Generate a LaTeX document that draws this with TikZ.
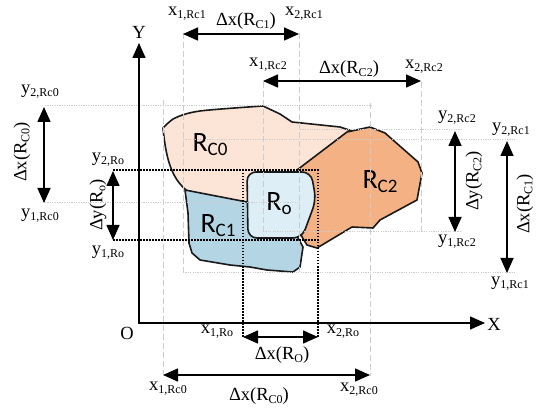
\documentclass[tikz,border=0pt]{standalone}
\usepackage{fontspec}
\setmainfont{Liberation Serif}
\newfontfamily\shapefont{Carlito}
\usetikzlibrary{arrows.meta}
\newcommand{\sbs}[1]{\raisebox{-3pt}{\fontsize{12}{12}\selectfont #1}}
\newcommand{\rsb}[1]{\raisebox{-4pt}{\fontsize{19}{19}\selectfont #1}}
\definecolor{peach}{HTML}{FCE4D6}
\definecolor{blueA}{HTML}{B4D6E4}
\definecolor{blueB}{HTML}{DDEEF6}
\definecolor{orng}{HTML}{F4B183}
\definecolor{edge}{HTML}{1A1A1A}
\begin{document}
\begin{tikzpicture}[x=1pt,y=-1pt,
  lbl/.style={font=\fontsize{18.5}{20}\selectfont, inner sep=0pt},
  reglbl/.style={font=\shapefont\fontsize{28}{30}\selectfont, inner sep=0pt},
  reg/.style={draw=edge, line width=1.6pt, line join=round},
  dimarrow/.style={{Triangle[length=15pt,width=13pt]}-{Triangle[length=15pt,width=13pt]}, line width=1.6pt},
  axis/.style={{Triangle[length=15pt,width=13pt]}-{Triangle[length=15pt,width=13pt]}, line width=1.6pt},
  guide/.style={black!20, line width=1pt, dash pattern=on 6pt off 3pt},
  guidedot/.style={black!20, line width=1pt, dash pattern=on 1.2pt off 1.2pt},
  blackdot/.style={black, line width=1.4pt, dash pattern=on 1.5pt off 1.5pt}]
\useasboundingbox (0,0) rectangle (540,411);

% regions
\path[reg, fill=peach] plot[smooth, tension=0.5] coordinates {(163,128) (175,118) (200,111) (263,106)}
  -- (280,114) -- (292,122) -- (340,127) -- (355,132) -- (330,168) -- (305,205) -- (260,212) -- (200,198) -- (186,190)
  .. controls (172,178) and (166,160) .. (163,128) -- cycle;
\path[reg, fill=blueA] (185,190) -- (247,202) -- (275,205) -- (295,225) -- (298,238) -- (303,247) -- (300,267) -- (293,272)
  -- (267,270) -- (250,267) -- (230,265) -- (200,260) -- (192,253) -- (189,243) -- (188,213) -- cycle;
\path[reg, fill=orng] (297,170) -- (347,132) -- (370,127) -- (385,133) -- (418,162) -- (422,173) -- (417,200) -- (380,220)
  -- (373,228) -- (352,227) -- (317,248) -- (307,245) -- (302,237) -- (292,200) -- cycle;
\path[reg, fill=blueB, rounded corners=9pt] (247,172) -- (311,172) -- (316,200) -- (302,238) -- (248,238) -- cycle;

\node[reglbl] (nRC0) at (210,145) {R\rsb{C0}};
\node[reglbl] (nRC1) at (218,226) {R\rsb{C1}};
\node[reglbl] (nRo)  at (279,204) {R\rsb{o}};
\node[reglbl] (nRC2) at (380,182) {R\rsb{C2}};

% coordinates
\coordinate (org) at (139,323);
\coordinate (ytip) at (139,43);
\coordinate (xtip) at (485,323);

% grey guides (vertical dashed)
\coordinate (g1a) at (163,100); \coordinate (g1b) at (163,375);
\coordinate (g2a) at (183,33);  \coordinate (g2b) at (183,272);
\coordinate (g3a) at (263,82);  \coordinate (g3b) at (263,236);
\coordinate (g4a) at (299,33);  \coordinate (g4b) at (299,272);
\coordinate (g5a) at (370,103); \coordinate (g5b) at (370,376);
\coordinate (g6a) at (421,82);  \coordinate (g6b) at (421,232);
\draw[guide] (g1a) -- (g1b);
\draw[guide] (g2a) -- (g2b);
\draw[guide] (g3a) -- (g3b);
\draw[guide] (g4a) -- (g4b);
\draw[guide] (g5a) -- (g5b);
\draw[guide] (g6a) -- (g6b);
% grey guides (horizontal dotted)
\coordinate (h1a) at (45,106);  \coordinate (h1b) at (372,106);
\coordinate (h2a) at (45,203);  \coordinate (h2b) at (300,203);
\coordinate (h3a) at (300,130); \coordinate (h3b) at (462,130);
\coordinate (h4a) at (183,140); \coordinate (h4b) at (516,140);
\coordinate (h5a) at (263,232); \coordinate (h5b) at (462,232);
\coordinate (h6a) at (183,273); \coordinate (h6b) at (516,273);
\draw[guidedot] (h1a) -- (h1b);
\draw[guidedot] (h2a) -- (h2b);
\draw[guidedot] (h3a) -- (h3b);
\draw[guidedot] (h4a) -- (h4b);
\draw[guidedot] (h5a) -- (h5b);
\draw[guidedot] (h6a) -- (h6b);

% black dotted guides for Ro
\coordinate (d1a) at (113,170); \coordinate (d1b) at (319,170);
\coordinate (d2a) at (113,240); \coordinate (d2b) at (319,240);
\coordinate (d3a) at (243,170); \coordinate (d3b) at (243,337);
\coordinate (d4a) at (318,170); \coordinate (d4b) at (318,337);
\draw[blackdot] (d1a) -- (d1b);
\draw[blackdot] (d2a) -- (d2b);
\draw[blackdot] (d3a) -- (d3b);
\draw[blackdot] (d4a) -- (d4b);

% axes
\draw[axis] (ytip) -- (org) -- (xtip);
\node[lbl] (Y) at (139,32) {Y};
\node[lbl] (X) at (494,324) {X};
\node[lbl] (O) at (127,333) {O};

% dimension arrows
\coordinate (a1a) at (183,34);  \coordinate (a1b) at (299,34);
\coordinate (a2a) at (263,81);  \coordinate (a2b) at (421,81);
\coordinate (a3a) at (243,337); \coordinate (a3b) at (318,337);
\coordinate (a4a) at (163,375); \coordinate (a4b) at (370,375);
\coordinate (a5a) at (44,107);  \coordinate (a5b) at (44,203);
\coordinate (a6a) at (113,171); \coordinate (a6b) at (113,240);
\coordinate (a7a) at (455,131); \coordinate (a7b) at (455,232);
\coordinate (a8a) at (507,141); \coordinate (a8b) at (507,273);
\draw[dimarrow] (a1a) -- (a1b);
\draw[dimarrow] (a2a) -- (a2b);
\draw[dimarrow] (a3a) -- (a3b);
\draw[dimarrow] (a4a) -- (a4b);
\draw[dimarrow] (a5a) -- (a5b);
\draw[dimarrow] (a6a) -- (a6b);
\draw[dimarrow] (a7a) -- (a7b);
\draw[dimarrow] (a8a) -- (a8b);

% top labels
\node[lbl] (tx1c1) at (187,14) {x\sbs{1,Rc1}};
\node[lbl] (tdc1)  at (246,21) {Δx(R\sbs{C1})};
\node[lbl] (tx2c1) at (304,14) {x\sbs{2,Rc1}};
\node[lbl] (tx1c2) at (268,65) {x\sbs{1,Rc2}};
\node[lbl] (tdc2)  at (349,69) {Δx(R\sbs{C2})};
\node[lbl] (tx2c2) at (424,67) {x\sbs{2,Rc2}};
% bottom labels
\node[lbl] (bx1o)  at (217,332) {x\sbs{1,Ro}};
\node[lbl] (bx2o)  at (343,332) {x\sbs{2,Ro}};
\node[lbl] (bdo)   at (282,355) {Δx(R\sbs{O})};
\node[lbl] (bx1c0) at (168,389) {x\sbs{1,Rc0}};
\node[lbl] (bx2c0) at (359,390) {x\sbs{2,Rc0}};
\node[lbl] (bdc0)  at (259,396) {Δx(R\sbs{C0})};
% left labels
\node[lbl] (ly2c0) at (40,92) {y\sbs{2,Rc0}};
\node[lbl] (ly1c0) at (40,216) {y\sbs{1,Rc0}};
\node[lbl, rotate=90] (ldc0) at (22,152) {Δx(R\sbs{C0})};
\node[lbl] (ly2o)  at (108,160) {y\sbs{2,Ro}};
\node[lbl] (ly1o)  at (108,253) {y\sbs{1,Ro}};
\node[lbl, rotate=90] (ldo) at (98,205) {Δy(R\sbs{o})};
% right labels
\node[lbl] (ry2c2) at (457,118) {y\sbs{2,Rc2}};
\node[lbl] (ry1c2) at (457,242) {y\sbs{1,Rc2}};
\node[lbl, rotate=90] (rdc2) at (474,181) {Δy(R\sbs{C2})};
\node[lbl] (ry2c1) at (511,130) {y\sbs{2,Rc1}};
\node[lbl] (ry1c1) at (510,284) {y\sbs{1,Rc1}};
\node[lbl, rotate=90] (rdc1) at (525,204) {Δx(R\sbs{C1})};
\end{tikzpicture}
\end{document}
